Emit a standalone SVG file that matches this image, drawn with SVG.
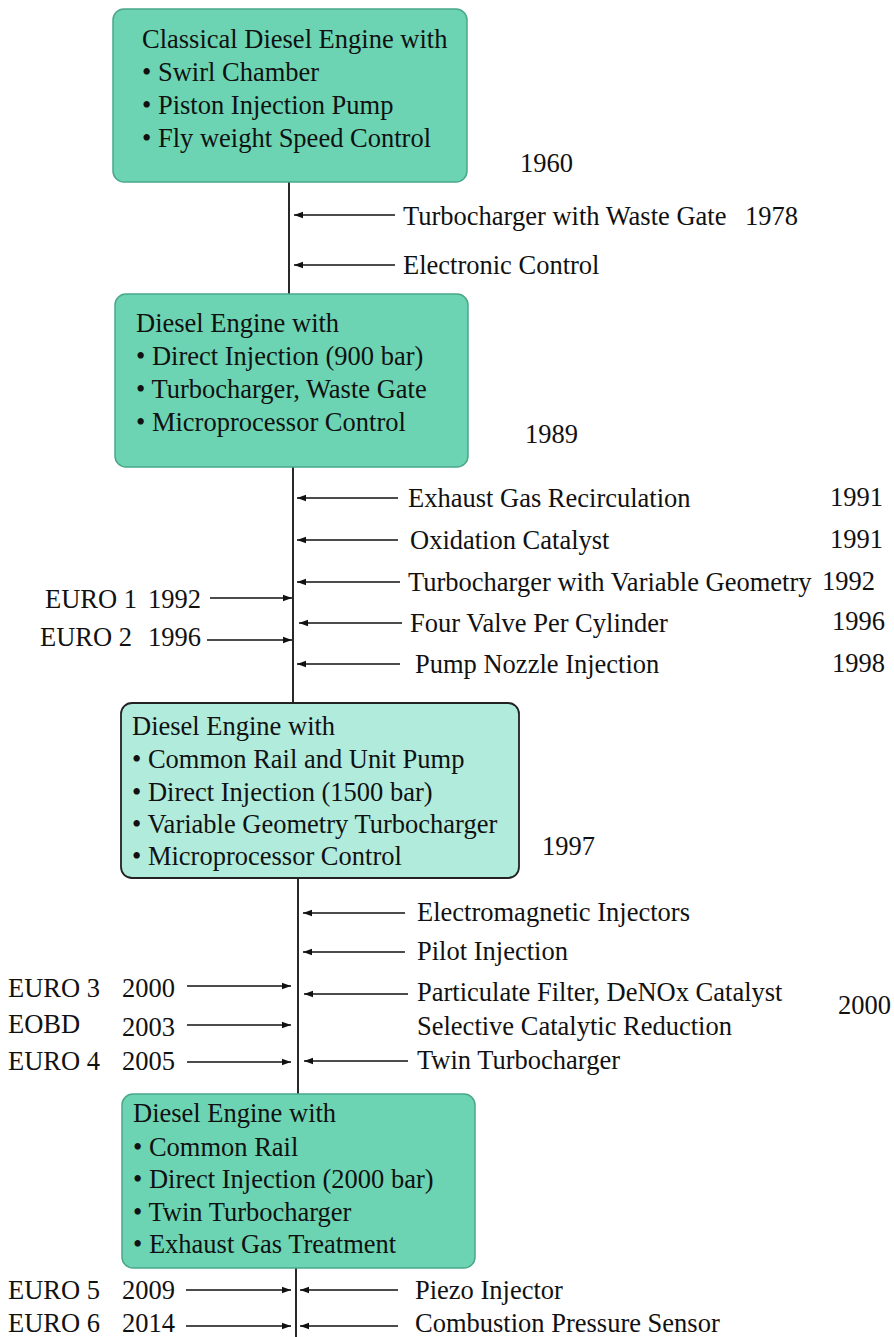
<svg xmlns="http://www.w3.org/2000/svg" width="894" height="1337" viewBox="0 0 894 1337">
<style>
text{font-family:'Liberation Serif','Tinos','DejaVu Serif','Times New Roman',serif;font-size:26.5px;fill:#111}
.box{fill:#6cd4b2;stroke:#4aa88a;stroke-width:1.5}
.box3{fill:#b0ebdc;stroke:#222;stroke-width:1.8}
.ln{stroke:#111;stroke-width:1.8;fill:none}
.ar{stroke:#111;stroke-width:1.6;fill:none;marker-end:url(#ah)}
</style>
<defs>
<marker id="ah" markerWidth="10" markerHeight="8" refX="9" refY="4" orient="auto" markerUnits="userSpaceOnUse">
<path d="M0,0.8 L9,4 L0,7.2 Z" fill="#111"/>
</marker>
</defs>
<rect width="894" height="1337" fill="#fff"/>

<g id="connectors">
<line class="ln" x1="289" y1="182" x2="289" y2="294"/>
<line class="ln" x1="293" y1="467" x2="293" y2="703"/>
<line class="ln" x1="298" y1="878" x2="298" y2="1094"/>
<line class="ln" x1="296" y1="1268" x2="296" y2="1337"/>
<line class="ar" x1="395" y1="215" x2="294" y2="215"/>
<line class="ar" x1="395" y1="265" x2="294" y2="265"/>
<line class="ar" x1="398" y1="498" x2="297" y2="498"/>
<line class="ar" x1="398" y1="540" x2="297" y2="540"/>
<line class="ar" x1="400" y1="582" x2="297" y2="582"/>
<line class="ar" x1="402" y1="623" x2="299" y2="623"/>
<line class="ar" x1="400" y1="664" x2="297" y2="664"/>
<line class="ar" x1="210" y1="598" x2="292" y2="598"/>
<line class="ar" x1="207" y1="640" x2="292" y2="640"/>
<line class="ar" x1="405" y1="913" x2="303" y2="913"/>
<line class="ar" x1="405" y1="952" x2="303" y2="952"/>
<line class="ar" x1="408" y1="994" x2="304" y2="994"/>
<line class="ar" x1="408" y1="1061" x2="304" y2="1061"/>
<line class="ar" x1="187" y1="986" x2="291" y2="986"/>
<line class="ar" x1="187" y1="1025" x2="291" y2="1025"/>
<line class="ar" x1="187" y1="1062" x2="291" y2="1062"/>
<line class="ar" x1="186" y1="1290" x2="291" y2="1290"/>
<line class="ar" x1="186" y1="1326" x2="291" y2="1326"/>
<line class="ar" x1="398" y1="1290" x2="300" y2="1290"/>
<line class="ar" x1="398" y1="1326" x2="300" y2="1326"/>
</g>

<g id="node1">
<rect class="box" x="113" y="9" width="354" height="173" rx="11"/>
<text x="142" y="48">Classical Diesel Engine with</text>
<text x="142" y="81">• Swirl Chamber</text>
<text x="142" y="114">• Piston Injection Pump</text>
<text x="142" y="147">• Fly weight Speed Control</text>
</g>

<g id="node2">
<rect class="box" x="115" y="294" width="353" height="173" rx="11"/>
<text x="136" y="332">Diesel Engine with</text>
<text x="136" y="365">• Direct Injection (900 bar)</text>
<text x="136" y="398">• Turbocharger, Waste Gate</text>
<text x="136" y="431">• Microprocessor Control</text>
</g>

<g id="node3">
<rect class="box3" x="121" y="703" width="398" height="175" rx="11"/>
<text x="132" y="735">Diesel Engine with</text>
<text x="132" y="768">• Common Rail and Unit Pump</text>
<text x="132" y="801">• Direct Injection (1500 bar)</text>
<text x="132" y="833">• Variable Geometry Turbocharger</text>
<text x="132" y="865">• Microprocessor Control</text>
</g>

<g id="node4">
<rect class="box" x="122" y="1094" width="353" height="174" rx="11"/>
<text x="133" y="1122">Diesel Engine with</text>
<text x="133" y="1156">• Common Rail</text>
<text x="133" y="1188">• Direct Injection (2000 bar)</text>
<text x="133" y="1221">• Twin Turbocharger</text>
<text x="133" y="1253">• Exhaust Gas Treatment</text>
</g>

<g id="labels">
<text x="520" y="172">1960</text>
<text x="403" y="225">Turbocharger with Waste Gate</text>
<text x="745" y="225">1978</text>
<text x="403" y="274">Electronic Control</text>
<text x="525" y="443">1989</text>

<text x="408" y="507">Exhaust Gas Recirculation</text>
<text x="830" y="506">1991</text>
<text x="410" y="549">Oxidation Catalyst</text>
<text x="830" y="548">1991</text>
<text x="408" y="591">Turbocharger with Variable Geometry</text>
<text x="822" y="590">1992</text>
<text x="410" y="632">Four Valve Per Cylinder</text>
<text x="832" y="630">1996</text>
<text x="415" y="673">Pump Nozzle Injection</text>
<text x="832" y="672">1998</text>
<text x="45" y="608">EURO 1</text>
<text x="148" y="608">1992</text>
<text x="40" y="646">EURO 2</text>
<text x="148" y="646">1996</text>

<text x="542" y="855">1997</text>

<text x="417" y="921">Electromagnetic Injectors</text>
<text x="417" y="960">Pilot Injection</text>
<text x="417" y="1001">Particulate Filter, DeNOx Catalyst</text>
<text x="417" y="1035">Selective Catalytic Reduction</text>
<text x="417" y="1069">Twin Turbocharger</text>
<text x="838" y="1014">2000</text>
<text x="8" y="997">EURO 3</text>
<text x="122" y="997">2000</text>
<text x="8" y="1033">EOBD</text>
<text x="122" y="1036">2003</text>
<text x="8" y="1070">EURO 4</text>
<text x="122" y="1070">2005</text>

<text x="8" y="1299">EURO 5</text>
<text x="122" y="1299">2009</text>
<text x="415" y="1299">Piezo Injector</text>
<text x="8" y="1332">EURO 6</text>
<text x="122" y="1332">2014</text>
<text x="415" y="1332">Combustion Pressure Sensor</text>
</g>
</svg>
